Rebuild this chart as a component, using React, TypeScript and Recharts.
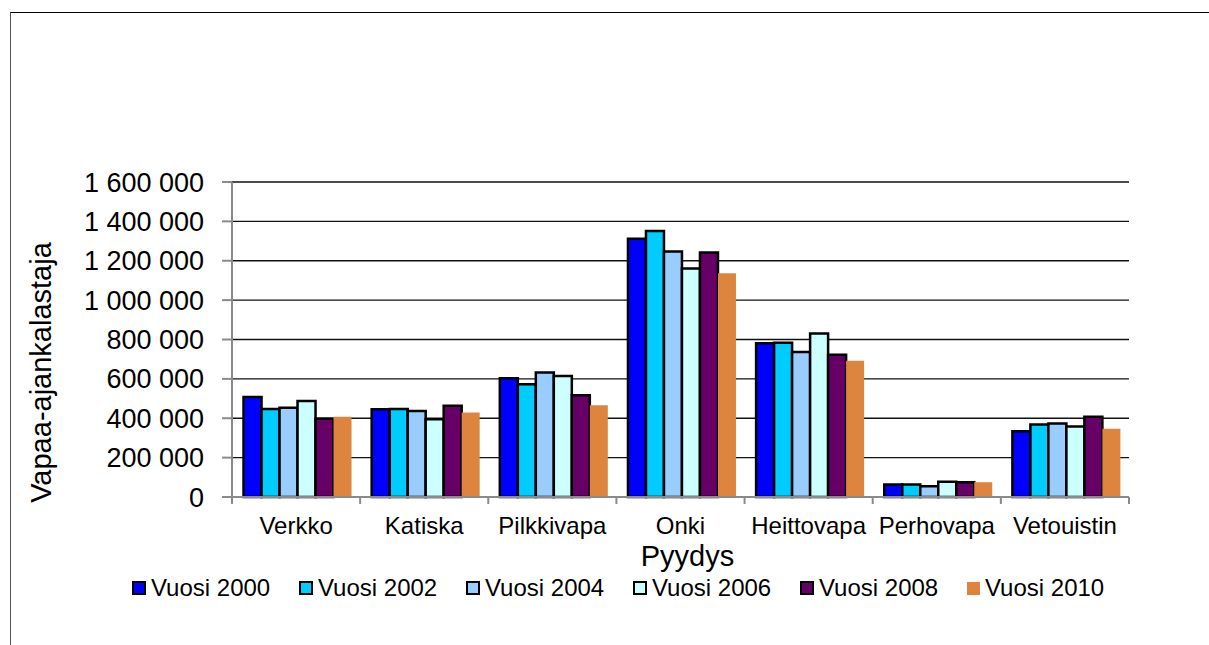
import React from 'react';
import {
  BarChart,
  Bar,
  XAxis,
  YAxis,
  CartesianGrid,
  Legend,
  Label,
} from 'recharts';

const CATEGORIES = ['Verkko', 'Katiska', 'Pilkkivapa', 'Onki', 'Heittovapa', 'Perhovapa', 'Vetouistin'];

const VUOSI_2000 = [508000, 446000, 603000, 1312000, 781000, 63000, 334000];
const VUOSI_2002 = [447000, 447000, 573000, 1351000, 783000, 63000, 368000];
const VUOSI_2004 = [453000, 437000, 632000, 1247000, 737000, 54000, 373000];
const VUOSI_2006 = [488000, 395000, 614000, 1161000, 831000, 78000, 358000];
const VUOSI_2008 = [398000, 464000, 517000, 1242000, 722000, 75000, 408000];
const VUOSI_2010 = [408000, 429000, 466000, 1136000, 692000, 75000, 347000];

const Y_TICKS = [0, 200000, 400000, 600000, 800000, 1000000, 1200000, 1400000, 1600000];

const SERIES = [
  { key: 'v2000', name: 'Vuosi 2000', values: VUOSI_2000, color: '#0000FF', outline: true },
  { key: 'v2002', name: 'Vuosi 2002', values: VUOSI_2002, color: '#00CCFF', outline: true },
  { key: 'v2004', name: 'Vuosi 2004', values: VUOSI_2004, color: '#99CCFF', outline: true },
  { key: 'v2006', name: 'Vuosi 2006', values: VUOSI_2006, color: '#CCFFFF', outline: true },
  { key: 'v2008', name: 'Vuosi 2008', values: VUOSI_2008, color: '#660066', outline: true },
  { key: 'v2010', name: 'Vuosi 2010', values: VUOSI_2010, color: '#DD853F', outline: false },
];

const data = CATEGORIES.map((name, i) => {
  const row: Record<string, any> = { name };
  SERIES.forEach(s => { row[s.key] = s.values[i]; });
  return row;
});

const FONT = '"Liberation Sans", Arial, sans-serif';
const CHART_W = 1209;
const CHART_H = 645;
const MARGIN = { top: 182, right: 80, left: 10, bottom: 38 };
const Y_AXIS_W = 222;
const PLOT_W = CHART_W - MARGIN.left - MARGIN.right - Y_AXIS_W;
const BAND = PLOT_W / CATEGORIES.length;
const AXIS_GRAY = '#8a8a8a';

const fmt = (v: number) => String(v).replace(/\B(?=(\d{3})+(?!\d))/g, ' ');

// label in the middle of the band, tick marks on the band edges
const CategoryTick = (props: any) => {
  const { x, y, payload, index } = props;
  const half = BAND / 2;
  return (
    <g>
      <line x1={x - half} x2={x - half} y1={y} y2={y + 7} stroke={AXIS_GRAY} strokeWidth={2} />
      {index === CATEGORIES.length - 1 && (
        <line x1={x + half} x2={x + half} y1={y} y2={y + 7} stroke={AXIS_GRAY} strokeWidth={2} />
      )}
      <text x={x} y={y + 37} textAnchor="middle" fontSize={24} fontFamily={FONT} fill="#000">
        {payload.value}
      </text>
    </g>
  );
};

const renderLegend = () => (
  <div style={{ display: 'flex', alignItems: 'center', height: 30, fontFamily: FONT, fontSize: 24, color: '#000' }}>
    {SERIES.map(s => (
      <div key={s.key} style={{ display: 'flex', alignItems: 'center', width: 167, whiteSpace: 'nowrap' }}>
        <span
          style={{
            display: 'inline-block',
            boxSizing: 'border-box',
            width: s.outline ? 14 : 13,
            height: s.outline ? 14 : 13,
            background: s.color,
            border: s.outline ? '2px solid #000' : 'none',
            marginRight: 5,
            flexShrink: 0,
          }}
        />
        <span>{s.name}</span>
      </div>
    ))}
  </div>
);

const YTitle = (props: any) => {
  const vb = props.viewBox || { x: 0, y: 0, height: 0 };
  const cx = vb.x + 31;
  const cy = vb.y + vb.height / 2 + 33;
  return (
    <text
      x={0}
      y={0}
      transform={`translate(${cx}, ${cy}) rotate(-90)`}
      textAnchor="middle"
      dominantBaseline="central"
      fontSize={29}
      fontFamily={FONT}
      fill="#000"
    >
      Vapaa-ajankalastaja
    </text>
  );
};

export default function App() {
  return (
    <div style={{ position: 'absolute', left: 0, top: 0, width: CHART_W, height: CHART_H, overflow: 'hidden', background: '#fff' }}>
      {/* outer frame of the chart object */}
      <div
        style={{
          position: 'absolute',
          left: 10,
          top: 12,
          width: CHART_W,
          height: CHART_H,
          borderTop: '1px solid #000',
          borderLeft: '1.5px solid #555',
        }}
      />
      <BarChart
        width={CHART_W}
        height={CHART_H}
        data={data}
        margin={MARGIN}
        barCategoryGap="9%"
        barGap={0}
        style={{ fontFamily: FONT }}
      >
        <CartesianGrid vertical={false} stroke="#111" strokeWidth={1.3} />
        <XAxis
          dataKey="name"
          height={80}
          tickSize={0}
          tickMargin={0}
          tickLine={false}
          axisLine={{ stroke: AXIS_GRAY, strokeWidth: 2 }}
          tick={<CategoryTick />}
          interval={0}
        >
          <Label value="Pyydys" position="insideBottom" offset={11} dx={7} fontSize={29} fontFamily={FONT} fill="#000" />
        </XAxis>
        <XAxis
          xAxisId="top"
          dataKey="name"
          orientation="top"
          height={0}
          tick={false}
          tickLine={false}
          axisLine={{ stroke: AXIS_GRAY, strokeWidth: 2 }}
        />
        <YAxis
          width={Y_AXIS_W}
          domain={[0, 1600000]}
          ticks={Y_TICKS}
          interval={0}
          tickFormatter={fmt}
          tickSize={10}
          tickMargin={18}
          tick={{ fontSize: 27, fill: '#000', fontFamily: FONT }}
          tickLine={{ stroke: AXIS_GRAY, strokeWidth: 2 }}
          axisLine={{ stroke: AXIS_GRAY, strokeWidth: 2 }}
        >
          <Label content={<YTitle />} />
        </YAxis>
        <YAxis
          yAxisId="right"
          orientation="right"
          width={0}
          tick={false}
          tickLine={false}
          axisLine={{ stroke: AXIS_GRAY, strokeWidth: 2 }}
        />
        <Legend
          verticalAlign="bottom"
          content={renderLegend}
          wrapperStyle={{ left: 132, bottom: 42, width: 1060 }}
        />
        {SERIES.map(s => (
          <Bar
            key={s.key}
            dataKey={s.key}
            name={s.name}
            fill={s.color}
            stroke={s.outline ? '#000' : 'none'}
            strokeWidth={s.outline ? 2.5 : 0}
            isAnimationActive={false}
          />
        ))}
      </BarChart>
    </div>
  );
}
